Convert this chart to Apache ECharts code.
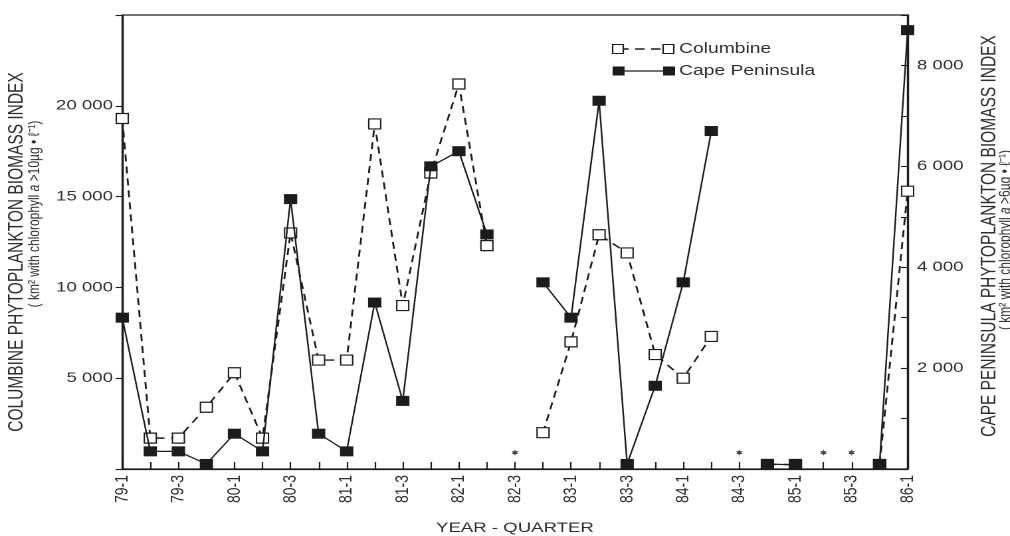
<!DOCTYPE html>
<html>
<head>
<meta charset="utf-8">
<script src="https://cdn.jsdelivr.net/npm/echarts@6/dist/echarts.min.js"></script>
<style>
  html, body { margin: 0; padding: 0; background: #ffffff; overflow: hidden; }
  /* the figure is laid out on a narrower canvas and widened horizontally */
  #chart { width: 760px; height: 536px; transform: scaleX(1.3289); transform-origin: 0 0; }
</style>
</head>
<body>
<div id="chart"></div>
<script>
// Quarterly survey periods (year - quarter)
const quarters = [
  '79-1','79-2','79-3','79-4',
  '80-1','80-2','80-3','80-4',
  '81-1','81-2','81-3','81-4',
  '82-1','82-2','82-3','82-4',
  '83-1','83-2','83-3','83-4',
  '84-1','84-2','84-3','84-4',
  '85-1','85-2','85-3','85-4',
  '86-1'
];

// Columbine phytoplankton biomass index (km² with chlorophyll a > 10 µg·ℓ⁻¹), left axis
const columbine = [
  19300, 1700, 1700, 3400,
  5300, 1700, 13000, 6000,
  6000, 19000, 9000, 16300,
  21200, 12300, null, 2000,
  7000, 12900, 11900, 6300,
  5000, 7300, null, 250,
  250, null, null, 250,
  15300
];

// Cape Peninsula phytoplankton biomass index (km² with chlorophyll a > 6 µg·ℓ⁻¹), right axis
const capePeninsula = [
  3000, 350, 350, 100,
  700, 350, 5350, 700,
  350, 3300, 1350, 6000,
  6300, 4650, null, 3700,
  3000, 7300, 100, 1650,
  3700, 6700, null, 100,
  80, null, null, 100,
  8700
];

// Quarters without a survey, flagged with an asterisk just above the axis
const noSurvey = ['82-3', '84-3', '85-2', '85-3'];
const noSurveyFlagLevel = 900;

// Axis ranges
const leftAxisMax = 25000, leftAxisStep = 5000;
const rightAxisMax = 9000, rightAxisStep = 1000, rightLabelStep = 2000;

const FONT = '"Liberation Sans", Arial, Helvetica, sans-serif';
const INK = '#1c1c1c';
const TEXT = '#2e2e2e';

function spaced(v) {
  return String(v).replace(/\B(?=(\d{3})+(?!\d))/g, ' ');
}

const asterisk = 'path://M0,-10 L2.6,-4.5 L8.7,-5 L5.2,0 L8.7,5 L2.6,4.5 L0,10 L-2.6,4.5 L-8.7,5 L-5.2,0 L-8.7,-5 L-2.6,-4.5 Z';

const chart = echarts.init(document.getElementById('chart'), null, { devicePixelRatio: 2 });

chart.setOption({
  backgroundColor: '#ffffff',
  animation: false,
  textStyle: { fontFamily: FONT, color: TEXT },
  grid: {
    left: 92, right: 77, top: 15, bottom: 67,
    outerBoundsMode: 'none',
    containLabel: false,
    show: true, borderColor: INK, borderWidth: 1.2, backgroundColor: 'transparent'
  },
  xAxis: {
    type: 'category',
    data: quarters,
    boundaryGap: false,
    axisLine: { lineStyle: { color: INK, width: 1.2 } },
    axisTick: { inside: true, length: 7, interval: 0, lineStyle: { color: INK, width: 1.1 } },
    axisLabel: { rotate: 90, interval: 1, margin: 6, fontSize: 14, color: TEXT, fontFamily: FONT },
    splitLine: { show: false },
    name: 'YEAR - QUARTER',
    nameLocation: 'middle',
    nameGap: 52,
    nameTextStyle: { fontSize: 14, color: TEXT, fontFamily: FONT }
  },
  yAxis: [
    {
      type: 'value',
      position: 'left',
      min: 0, max: leftAxisMax, interval: leftAxisStep,
      axisLine: { show: true, lineStyle: { color: INK, width: 1.2 } },
      axisTick: { show: true, inside: false, length: 5, lineStyle: { color: INK, width: 1.1 } },
      axisLabel: {
        margin: 7, fontSize: 14, color: TEXT, fontFamily: FONT,
        formatter: v => (v === 0 || v === leftAxisMax) ? '' : spaced(v)
      },
      splitLine: { show: false }
    },
    {
      type: 'value',
      position: 'right',
      min: 0, max: rightAxisMax, interval: rightAxisStep,
      axisLine: { show: true, lineStyle: { color: INK, width: 1.2 } },
      axisTick: { show: true, inside: true, length: 5, lineStyle: { color: INK, width: 1.1 } },
      axisLabel: {
        margin: 7, fontSize: 14, color: TEXT, fontFamily: FONT,
        formatter: v => (v > 0 && v % rightLabelStep === 0) ? spaced(v) : ''
      },
      splitLine: { show: false }
    }
  ],
  graphic: [
    // left axis title
    {
      type: 'text', x: 12.5, y: 252, rotation: Math.PI / 2,
      style: {
        text: 'COLUMBINE PHYTOPLANKTON BIOMASS INDEX',
        fontSize: 15.5, fontFamily: FONT, fill: TEXT,
        textAlign: 'center', textVerticalAlign: 'middle'
      }
    },
    {
      type: 'text', x: 26, y: 214, rotation: Math.PI / 2,
      style: {
        text: '( km² with chlorophyll {i|a} >10µg • ℓ⁻¹)',
        rich: { i: { fontStyle: 'italic', fontSize: 12, fontFamily: FONT, fill: TEXT } },
        fontSize: 12, fontFamily: FONT, fill: TEXT,
        textAlign: 'center', textVerticalAlign: 'middle'
      }
    },
    // right axis title
    {
      type: 'text', x: 744.5, y: 236, rotation: Math.PI / 2,
      style: {
        text: 'CAPE PENINSULA PHYTOPLANKTON BIOMASS INDEX',
        fontSize: 15.5, fontFamily: FONT, fill: TEXT,
        textAlign: 'center', textVerticalAlign: 'middle'
      }
    },
    {
      type: 'text', x: 756.5, y: 240, rotation: Math.PI / 2,
      style: {
        text: '( km² with chlorophyll {i|a} >6µg • ℓ⁻¹)',
        rich: { i: { fontStyle: 'italic', fontSize: 12, fontFamily: FONT, fill: TEXT } },
        fontSize: 12, fontFamily: FONT, fill: TEXT,
        textAlign: 'center', textVerticalAlign: 'middle'
      }
    },
    // key
    {
      type: 'group', x: 461, y: 49,
      children: [
        { type: 'line', shape: { x1: 5, y1: 0, x2: 42, y2: 0 },
          style: { stroke: INK, lineWidth: 1.4, lineDash: [7, 5] } },
        { type: 'rect', shape: { x: 0, y: -4.5, width: 8, height: 9 },
          style: { fill: '#fff', stroke: INK, lineWidth: 1.1 } },
        { type: 'rect', shape: { x: 38, y: -4.5, width: 8, height: 9 },
          style: { fill: '#fff', stroke: INK, lineWidth: 1.1 } },
        { type: 'text', x: 50, y: 0,
          style: { text: 'Columbine', fontSize: 14.5, fontFamily: FONT, fill: TEXT, textVerticalAlign: 'middle' } },

        { type: 'line', shape: { x1: 5, y1: 22, x2: 42, y2: 22 },
          style: { stroke: INK, lineWidth: 1.2 } },
        { type: 'rect', shape: { x: 0, y: 17.5, width: 9, height: 9 },
          style: { fill: INK } },
        { type: 'rect', shape: { x: 38, y: 17.5, width: 9, height: 9 },
          style: { fill: INK } },
        { type: 'text', x: 50, y: 22,
          style: { text: 'Cape Peninsula', fontSize: 14.5, fontFamily: FONT, fill: TEXT, textVerticalAlign: 'middle' } }
      ]
    }
  ],
  series: [
    {
      name: 'Columbine',
      type: 'line',
      yAxisIndex: 0,
      data: columbine,
      connectNulls: false,
      symbol: 'rect',
      symbolSize: [9, 10],
      showAllSymbol: true,
      lineStyle: { color: INK, width: 1.4, type: [7, 5] },
      itemStyle: { color: '#ffffff', borderColor: INK, borderWidth: 1.1 },
      z: 2
    },
    {
      name: 'Cape Peninsula',
      type: 'line',
      yAxisIndex: 1,
      data: capePeninsula,
      connectNulls: false,
      symbol: 'rect',
      symbolSize: [10, 10],
      showAllSymbol: true,
      lineStyle: { color: INK, width: 1.2 },
      itemStyle: { color: INK, borderColor: INK, borderWidth: 0 },
      z: 3
    },
    {
      name: 'No survey',
      type: 'scatter',
      yAxisIndex: 0,
      data: noSurvey.map(q => [q, noSurveyFlagLevel]),
      symbol: asterisk,
      symbolSize: [5, 6],
      itemStyle: { color: INK },
      z: 4
    }
  ]
});
</script>
</body>
</html>
